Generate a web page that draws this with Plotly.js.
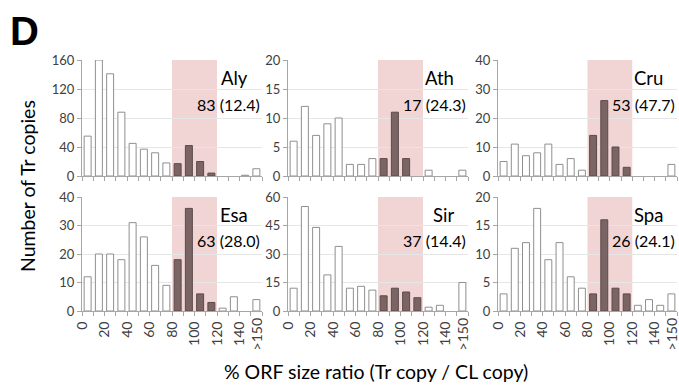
<!DOCTYPE html>
<html>
<head>
<meta charset="utf-8">
<script src="https://cdn.plot.ly/plotly-3.0.1.min.js"></script>
<style>html,body{margin:0;padding:0;background:#fff;}#chart{width:679px;height:385px;}</style>
</head>
<body>
<div id="chart"></div>
<script>
// Bins: 0-10, 10-20, ..., 140-150, >150
const binLabels = ['0-10','10-20','20-30','30-40','40-50','50-60','60-70','70-80','80-90','90-100','100-110','110-120','120-130','130-140','140-150','>150'];
const xTickLabels = ['0','20','40','60','80','100','120','140','>150'];

const aly = [55,160,141,88,45,37,32,18,17,42,20,4,0,0,1,10];
const ath = [6,12,7,9,10,2,2,3,3,11,3,0,1,0,0,1];
const cru = [5,11,7,8,11,4,6,2,14,26,10,3,0,0,0,4];
const esa = [12,20,20,18,31,26,16,9,18,36,6,3,1,5,0,4];
const sir = [12,55,44,19,34,12,13,11,8,12,10,7,2,3,0,15];
const spa = [3,11,12,18,9,12,6,4,3,16,4,3,1,2,1,3];

const speciesNames = ['Aly','Ath','Cru','Esa','Sir','Spa'];
const summaryLabels = ['83 (12.4)','17 (24.3)','53 (47.7)','63 (28.0)','37 (14.4)','26 (24.1)'];
const yMax = [160,20,40,40,60,20];
const yStep = [40,5,10,10,15,5];
const seriesList = [aly, ath, cru, esa, sir, spa];

// highlighted size-ratio window (80-120 %)
const windowLow = 80, windowHigh = 120;

const FONT = 'Lato, "Open Sans", "Liberation Sans", sans-serif';
const xDomains = [[82/679, 262/679], [288/679, 468/679], [498/679, 677/679]];
const yDomains = [[1-176/385, 1-60/385], [1-311/385, 1-197/385]];

const binCenters = binLabels.map((_, i) => i * 10 + 5);
const binEdges = binLabels.map((_, i) => i * 10).concat([160]);

const traces = [];
const layout = {
  width: 679, height: 385,
  margin: {l: 0, r: 0, t: 0, b: 0},
  paper_bgcolor: '#fff', plot_bgcolor: 'rgba(0,0,0,0)',
  showlegend: false,
  bargap: 0.38,
  font: {family: FONT, color: '#404040'},
  shapes: [], annotations: []
};

seriesList.forEach((vals, k) => {
  const idx = k + 1;
  const xa = 'x' + (idx === 1 ? '' : idx);
  const ya = 'y' + (idx === 1 ? '' : idx);
  const row = k < 3 ? 0 : 1;
  const col = k % 3;
  const inWin = binCenters.map(c => c > windowLow && c < windowHigh);
  traces.push({
    type: 'bar', x: binCenters, y: vals, xaxis: xa, yaxis: ya,
    marker: {
      color: inWin.map(w => w ? '#7b6464' : '#ffffff'),
      line: {
        color: inWin.map(w => w ? '#5c4a4a' : '#8f8f8f'),
        width: vals.map(v => v > 0 ? 1 : 0)
      }
    },
    hoverinfo: 'x+y'
  });
  const xKey = 'xaxis' + (idx === 1 ? '' : idx);
  const yKey = 'yaxis' + (idx === 1 ? '' : idx);
  const bottom = row === 1;
  const tickText = binEdges.map(e => (e % 20 === 0 && e <= 140 && bottom) ? String(e) : '');
  layout[xKey] = {
    domain: xDomains[col], anchor: ya, range: [0, 160], fixedrange: true,
    showgrid: false, zeroline: false,
    showline: true, linecolor: '#a6a6a6', linewidth: 1,
    ticks: 'outside', ticklen: 4, tickcolor: '#a6a6a6',
    tickmode: 'array', tickvals: binEdges, ticktext: tickText,
    showticklabels: bottom, tickangle: -90,
    tickfont: {size: 14, color: '#404040', family: FONT}
  };
  layout[yKey] = {
    domain: yDomains[row], anchor: xa, range: [0, yMax[k]], fixedrange: true,
    dtick: yStep[k], tick0: 0,
    showgrid: true, gridcolor: '#e6e6e6', gridwidth: 1, zeroline: false,
    showline: true, linecolor: '#a6a6a6', linewidth: 1,
    ticks: 'outside', ticklen: 4, tickcolor: '#a6a6a6',
    tickfont: {size: 13, color: '#404040', family: FONT}
  };
  layout.shapes.push({
    type: 'rect', xref: xa, yref: ya + ' domain', x0: windowLow, x1: windowHigh, y0: 0, y1: 1,
    fillcolor: '#f1d4d4', line: {width: 0}, layer: 'below'
  });
  layout.annotations.push({
    xref: xa + ' domain', yref: ya + ' domain', x: 1, y: 1, xanchor: 'right', yanchor: 'middle',
    xshift: -12, yshift: -18, text: speciesNames[k], showarrow: false,
    font: {size: 18.5, color: '#000', family: FONT}
  });
  layout.annotations.push({
    xref: xa + ' domain', yref: ya + ' domain', x: 1, y: 1, xanchor: 'right', yanchor: 'middle',
    xshift: 0, yshift: -44, text: summaryLabels[k], showarrow: false,
    font: {size: 16, color: '#000', family: FONT}
  });
  if (bottom) {
    layout.annotations.push({
      xref: xa, yref: ya + ' domain', x: binCenters[binCenters.length - 1], y: 0,
      xanchor: 'center', yanchor: 'top', yshift: -5, textangle: -90,
      text: xTickLabels[xTickLabels.length - 1], showarrow: false,
      font: {size: 14, color: '#404040', family: FONT}
    });
  }
});

layout.annotations.push({
  xref: 'paper', yref: 'paper', x: 8/679, y: 1 - 7/385, xanchor: 'left', yanchor: 'top',
  text: '<b>D</b>', showarrow: false,
  font: {size: 40, color: '#000', family: '"Liberation Sans", Arial, sans-serif'}
});
layout.annotations.push({
  xref: 'paper', yref: 'paper', x: 28/679, y: 1 - 186/385, xanchor: 'center', yanchor: 'middle',
  text: 'Number of Tr copies', textangle: -90, showarrow: false,
  font: {size: 19.5, color: '#000', family: FONT}
});
layout.annotations.push({
  xref: 'paper', yref: 'paper', x: 376/679, y: 1 - 371/385, xanchor: 'center', yanchor: 'middle',
  text: '% ORF size ratio (Tr copy / CL copy)', showarrow: false,
  font: {size: 19.5, color: '#000', family: FONT}
});

Plotly.newPlot('chart', traces, layout, {staticPlot: true, displayModeBar: false});
</script>
</body>
</html>
